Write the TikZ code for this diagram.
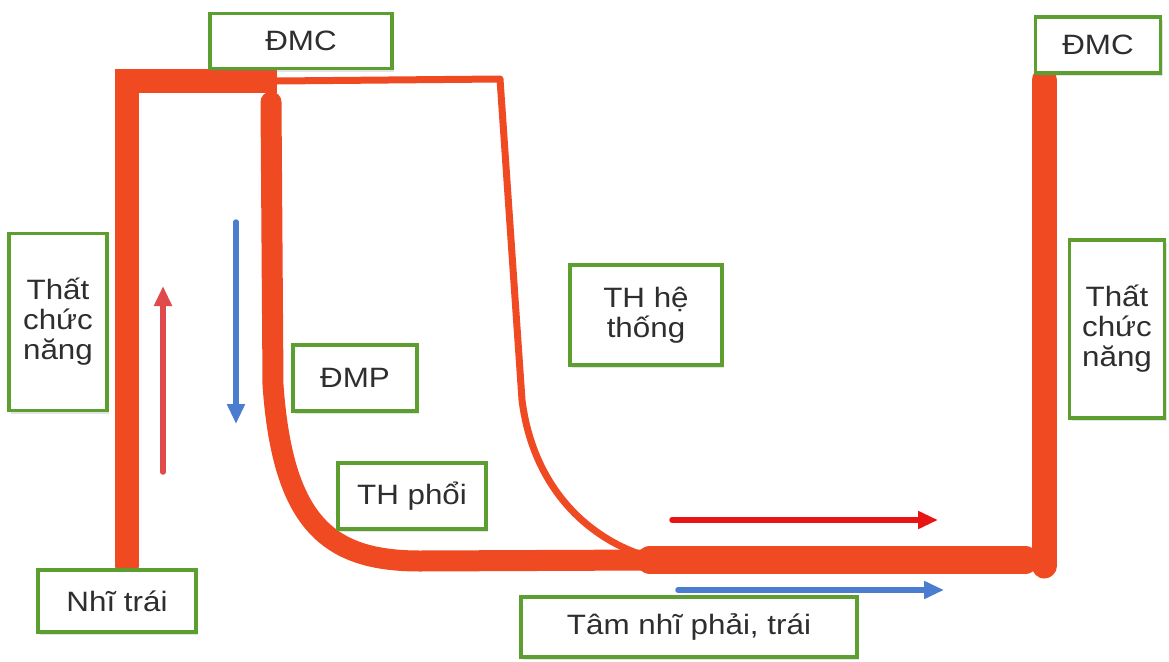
\documentclass[tikz,border=0pt]{standalone}
\usepackage{fontspec}
\setmainfont{Liberation Sans}[FakeStretch=1.12]
\usetikzlibrary{arrows.meta,shadows}
\definecolor{vein}{HTML}{F04A22}
\definecolor{boxgreen}{HTML}{5C9E30}
\definecolor{txt}{HTML}{2E2E2E}
\definecolor{redarr}{HTML}{E04A4A}
\definecolor{redarr2}{HTML}{E81515}
\definecolor{bluearr}{HTML}{4A7CCF}
\tikzset{
  lbl/.style={draw=boxgreen, line width=3.5pt, fill=white, inner sep=0pt,
    align=center, text=txt, font=\fontsize{28}{30}\selectfont,
    drop shadow={opacity=0.22, shadow xshift=2pt, shadow yshift=-3pt}},
  thick vessel/.style={draw=vein, line width=24pt},
  thin vessel/.style={draw=vein, line width=7pt, line join=round},
  flowarrow/.style={line width=5.5pt, -{Triangle[length=20pt,width=17pt]}}
}
\begin{document}
\begin{tikzpicture}[x=1pt,y=-1pt]
\useasboundingbox (0,0) rectangle (1169,661);
% coordinates
\coordinate (la) at (127,566);
\coordinate (lt) at (277,81);
\coordinate (ltl) at (115,81);
\coordinate (ht) at (500,79);
\coordinate (hb) at (522,400);
\coordinate (meet) at (645,556);
\coordinate (pt) at (271,102);
\coordinate (pb) at (273,385);
\coordinate (ph) at (420,561);
\coordinate (rs) at (650,560);
\coordinate (re) at (1025,560);
\coordinate (rt) at (1044,80);
\coordinate (rb) at (1044,566);
% vessels
\draw[thin vessel] (lt) -- (ht) -- (hb) .. controls (532,480) and (580,535) .. (meet);
\draw[thick vessel, line cap=round] (la) -- (127,81);
\draw[thick vessel] (ltl) -- (lt);
\draw[draw=vein, line width=21pt, line cap=round] (pt) -- (pb) .. controls (283,525) and (330,561) .. (ph) -- (rs);
\draw[draw=vein, line width=28pt, line cap=round] (rs) -- (re);
\draw[draw=vein, line width=25pt, line cap=round] (rb) -- (rt);
% arrows
\coordinate (a1s) at (163,472); \coordinate (a1e) at (163,286);
\coordinate (a2s) at (236,222); \coordinate (a2e) at (236,424);
\coordinate (a3s) at (672,520); \coordinate (a3e) at (938,520);
\coordinate (a4s) at (678,590); \coordinate (a4e) at (944,590);
\draw[flowarrow, draw=redarr, fill=redarr, line cap=round] (a1s) -- (a1e);
\draw[flowarrow, draw=bluearr, fill=bluearr, line cap=round] (a2s) -- (a2e);
\draw[flowarrow, draw=redarr2, fill=redarr2, line cap=round] (a3s) -- (a3e);
\draw[flowarrow, draw=bluearr, fill=bluearr, line cap=round] (a4s) -- (a4e);
% labels
\node[lbl, minimum width=182pt, minimum height=55pt] (dmc1) at (301,41) {ĐMC};
\node[lbl, minimum width=125pt, minimum height=56pt] (dmc2) at (1098,45) {ĐMC};
\node[lbl, minimum width=98pt, minimum height=177pt] (that1) at (58,322) {Thất\\chức\\năng};
\node[lbl, minimum width=95pt, minimum height=178pt] (that2) at (1117,329) {Thất\\chức\\năng};
\node[lbl, minimum width=152pt, minimum height=100pt] (thht) at (646,315) {TH hệ\\thống};
\node[lbl, minimum width=124pt, minimum height=66pt] (dmp) at (355,378) {ĐMP};
\node[lbl, minimum width=148pt, minimum height=66pt] (thphoi) at (412,496) {TH phổi};
\node[lbl, minimum width=158pt, minimum height=62pt] (nhi) at (117,601) {Nhĩ trái};
\node[lbl, minimum width=336pt, minimum height=60pt] (tam) at (689,627) {Tâm nhĩ phải, trái};
\end{tikzpicture}
\end{document}
